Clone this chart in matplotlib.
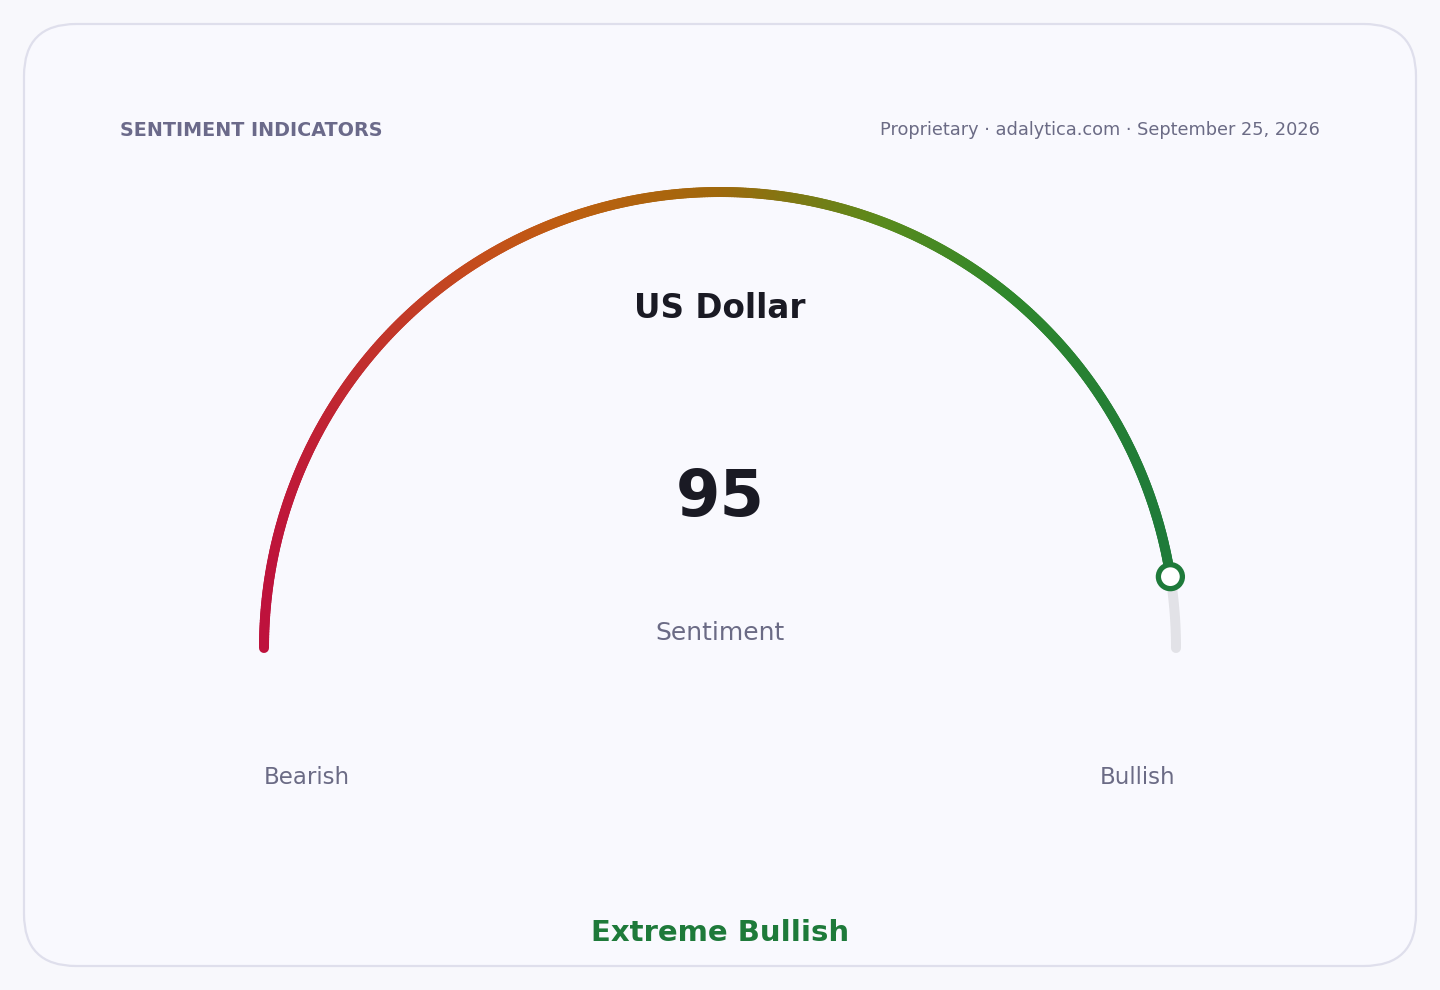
import numpy as np
import matplotlib.pyplot as plt
from matplotlib.collections import LineCollection
from matplotlib.colors import LinearSegmentedColormap
from matplotlib.patches import FancyBboxPatch, Circle

# data
title = "US Dollar"
value = 95
v_min, v_max = 0, 100
metric = "Sentiment"
low_label, high_label = "Bearish", "Bullish"
verdict = "Extreme Bullish"
header_left = "SENTIMENT INDICATORS"
header_right = "Proprietary \u00b7 adalytica.com \u00b7 September 25, 2026"

W, H = 1440, 990
CX, CY, R = 720, 648, 456
LW = 7.2  # arc width in points

fig = plt.figure(figsize=(W / 100, H / 100), dpi=100, facecolor="#f8f8fc")
ax = fig.add_axes([0, 0, 1, 1])
ax.set_xlim(0, W)
ax.set_ylim(H, 0)
ax.set_aspect("equal")
ax.axis("off")

card = FancyBboxPatch((24, 24), 1392, 942, boxstyle="round,pad=0,rounding_size=52",
                      facecolor="#f9f9fe", edgecolor="#dfdfec", linewidth=1.6)
ax.add_patch(card)

# gauge track (unfilled part)
frac = (value - v_min) / (v_max - v_min)
t_end = np.pi * (1 - frac)
tt = np.linspace(t_end, 0, 40)
ax.plot(CX + R * np.cos(tt), CY - R * np.sin(tt), color="#e2e2e7", lw=LW,
        solid_capstyle="round", zorder=2)

# gradient filled part, colour runs left to right
cmap = LinearSegmentedColormap.from_list(
    "sent", [(0, "#be123c"), (0.13, "#c2342b"), (0.24, "#c44e1c"), (0.34, "#bd5f10"),
             (0.5, "#a0680c"), (0.68, "#5a8a1c"), (0.82, "#2f872c"), (1, "#1e7a3a")])
t = np.linspace(np.pi, t_end, 500)
xs = CX + R * np.cos(t)
ys = CY - R * np.sin(t)
pts = np.column_stack([xs, ys]).reshape(-1, 1, 2)
segs = np.concatenate([pts[:-1], pts[1:]], axis=1)
xmid = (xs[:-1] + xs[1:]) / 2
cols = cmap((xmid - (CX - R)) / (2 * R))
lc = LineCollection(segs, colors=cols, linewidths=LW, capstyle="round", zorder=3)
ax.add_collection(lc)

# value marker
ax.add_patch(Circle((CX + R * np.cos(t_end), CY - R * np.sin(t_end)), 12,
                    facecolor="white", edgecolor="#1e7a3a", linewidth=3.8, zorder=4))

ax.text(120, 130, header_left, fontsize=13.8, fontweight="bold", color="#6b6a8a",
        ha="left", va="center")
ax.text(1320, 130, header_right, fontsize=12.8, color="#6b6b85", ha="right", va="center")

ax.text(CX, 309, title, fontsize=23.5, fontweight="bold", color="#1a1a24", ha="center", va="center")
ax.text(CX, 498, str(value), fontsize=46, fontweight="bold", color="#1a1a24", ha="center", va="center")
ax.text(CX, 633, metric, fontsize=18, color="#6b6b85", ha="center", va="center")

ax.text(264, 778, low_label, fontsize=16.5, color="#6b6b85", ha="left", va="center")
ax.text(1175, 778, high_label, fontsize=16.5, color="#6b6b85", ha="right", va="center")

ax.text(CX, 933, verdict, fontsize=21, fontweight="bold", color="#1e7a3a", ha="center", va="center")

fig.savefig("out.png", dpi=100, facecolor=fig.get_facecolor())
